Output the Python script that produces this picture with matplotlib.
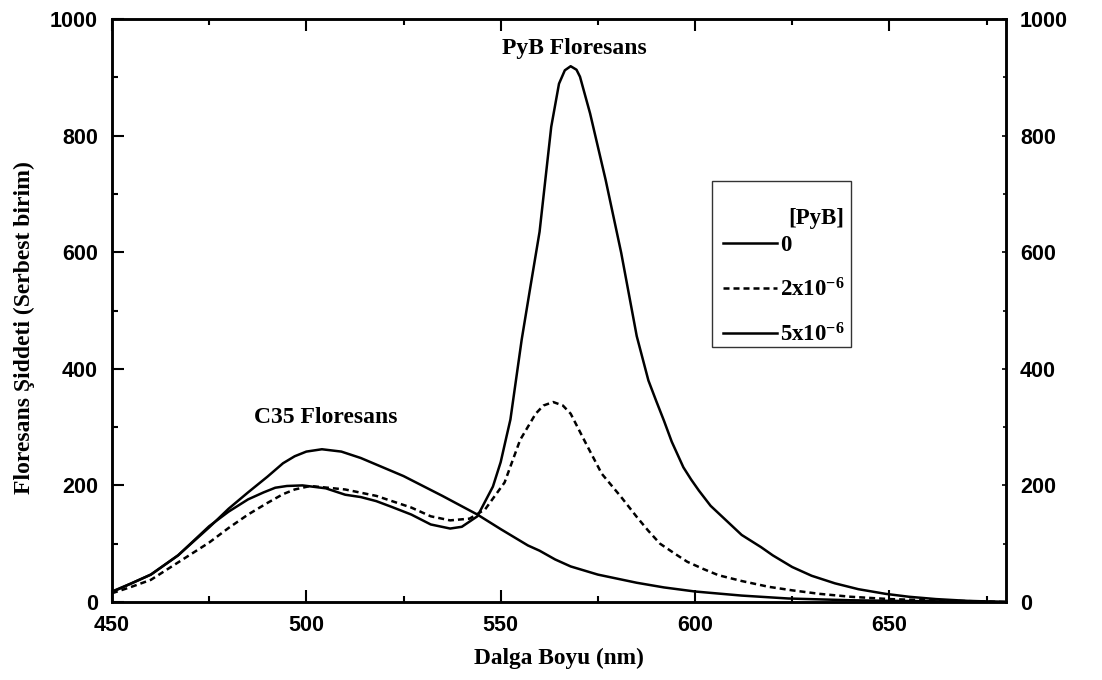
import matplotlib
matplotlib.use("Agg")
import matplotlib.pyplot as plt
from matplotlib.patches import Rectangle

plt.rcParams['mathtext.fontset'] = 'custom'
plt.rcParams['mathtext.rm'] = 'Liberation Serif'
plt.rcParams['mathtext.bf'] = 'Liberation Serif:bold'
plt.rcParams['mathtext.default'] = 'bf'

# curve without PyB (C35 only)
wl_0 = [450, 455, 460, 467, 475, 480, 485, 490, 494, 497, 500, 504, 509, 514,
        525, 535, 544, 550, 557, 560, 564, 568, 575, 580, 585, 592, 600, 612,
        624, 640, 650, 680]
int_0 = [17, 32, 47, 80, 128, 160, 188, 215, 238, 250, 258, 262, 258, 247,
         216, 182, 150, 125, 97, 88, 73, 61, 47, 40, 33, 25, 18, 11,
         6, 3, 2, 0]

# [PyB] = 2x10^-6
wl_2 = [450, 455, 460, 475, 480, 485, 490, 494, 497, 501, 510, 518, 527, 532,
        537, 542, 546, 551, 555, 559, 561, 563.5, 566, 568, 572, 576, 581, 585,
        588, 591, 595, 598, 602, 606, 612, 619, 625, 632, 640, 650, 660, 680]
int_2 = [15, 26, 38, 102, 127, 150, 170, 185, 193, 199, 193, 182, 162, 147,
         140, 143, 159, 205, 278, 323, 337, 343, 337, 323, 271, 220, 180, 146,
         122, 100, 82, 69, 57, 46, 36, 26, 20, 14, 9, 5, 3, 0]

# [PyB] = 5x10^-6
wl_5 = [450, 455, 460, 467, 475, 480, 485, 489, 492, 495, 499, 505, 510, 514,
        518, 522, 527, 532, 537, 540, 544, 548, 550, 551.5, 552.5, 555.4, 557.5,
        560, 561.5, 563, 565, 566.5, 568, 569.5, 570.4, 573, 577, 581, 585, 588,
        590, 592, 594, 597, 599, 601, 604, 608, 612, 617, 620, 625, 630, 636,
        642, 649, 655, 662, 670, 680]
int_5 = [18, 32, 47, 80, 130, 155, 176, 188, 196, 199, 200, 195, 184, 180,
         173, 163, 150, 133, 126, 129, 147, 198, 240, 284, 313, 450, 535,
         635, 725, 815, 889, 912, 919, 913, 901, 838, 724, 599, 456, 380,
         345, 311, 275, 231, 210, 191, 165, 140, 115, 94, 80, 60, 45, 32,
         22, 14, 9, 5, 2, 0]

labels = ['0', '2x10$^{-6}$', '5x10$^{-6}$']
x_ticks = [450, 500, 550, 600, 650]
x_minor = [475, 525, 575, 625, 675]
y_ticks = [0, 200, 400, 600, 800, 1000]
y_minor = [100, 300, 500, 700, 900]

serif = 'Liberation Serif'
sans = 'Liberation Sans'

fig = plt.figure(figsize=(11.02, 6.8), dpi=100)
ax = fig.add_axes([112/1102, 1 - 602/680, 894/1102, 583/680])

lw = 1.8
ax.plot(wl_0, int_0, color='black', lw=lw, label=labels[0])
ax.plot(wl_2, int_2, color='black', lw=lw, linestyle=(0, (2.4, 1.6)), label=labels[1])
ax.plot(wl_5, int_5, color='black', lw=lw, label=labels[2])

ax.set_xlim(450, 680)
ax.set_ylim(0, 1000)
ax.set_xticks(x_ticks)
ax.set_xticks(x_minor, minor=True)
ax.set_yticks(y_ticks)
ax.set_yticks(y_minor, minor=True)

for s in ax.spines.values():
    s.set_linewidth(1.8)

ax.tick_params(which='both', direction='in', top=True, right=False, width=1.5)
ax.tick_params(which='major', length=8.6)
ax.tick_params(axis='y', which='major', pad=10)
ax.tick_params(axis='x', which='major', pad=9.5)
ax.tick_params(which='minor', length=4.6)
for t in ax.get_xticklabels() + ax.get_yticklabels():
    t.set_fontfamily(sans)
    t.set_fontweight('bold')
    t.set_fontsize(15.5)

# right side labels with short ticks
ax2 = ax.twinx()
ax2.set_ylim(0, 1000)
ax2.set_yticks(y_ticks)
ax2.set_yticks(y_minor, minor=True)
ax2.tick_params(which='both', direction='in', width=1.2)
ax2.tick_params(which='major', length=3, pad=10)
ax2.tick_params(which='minor', length=2)
for s in ax2.spines.values():
    s.set_linewidth(1.8)
for t in ax2.get_yticklabels():
    t.set_fontfamily(sans)
    t.set_fontweight('bold')
    t.set_fontsize(15.5)

ax.set_xlabel('Dalga Boyu (nm)', fontfamily=serif, fontweight='bold', fontsize=16.8)
ax.set_ylabel('Floresans Şiddeti (Serbest birim)', fontfamily=serif, fontweight='bold', fontsize=17)
ax.xaxis.set_label_coords(0.5, -0.079)
ax.yaxis.set_label_coords(-0.086, 0.47)

ax.text(569, 950, 'PyB Floresans', ha='center', va='center',
        fontfamily=serif, fontweight='bold', fontsize=17)
ax.text(505, 317, 'C35 Floresans', ha='center', va='center',
        fontfamily=serif, fontweight='bold', fontsize=17)

# legend box drawn separately, entries from the legend itself
ax2.add_patch(Rectangle(((712-112)/894, (602-347)/583), 139/894, 166/583,
                        transform=ax.transAxes, facecolor='white',
                        edgecolor='#333333', lw=1.0, zorder=5))
leg = ax2.legend(*ax.get_legend_handles_labels(), title='[PyB]', loc='upper left',
                 bbox_to_anchor=((723-112)/894, (602-208)/583),
                 frameon=False, alignment='right',
                 prop={'family': serif, 'weight': 'bold', 'size': 16.5},
                 title_fontproperties={'family': serif, 'weight': 'bold', 'size': 16.5},
                 handlelength=2.36, handletextpad=0.12, labelspacing=0.97,
                 borderpad=0, borderaxespad=0)
leg.set_zorder(6)
leg._legend_box.sep = 4

fig.savefig('out.png', dpi=100)
